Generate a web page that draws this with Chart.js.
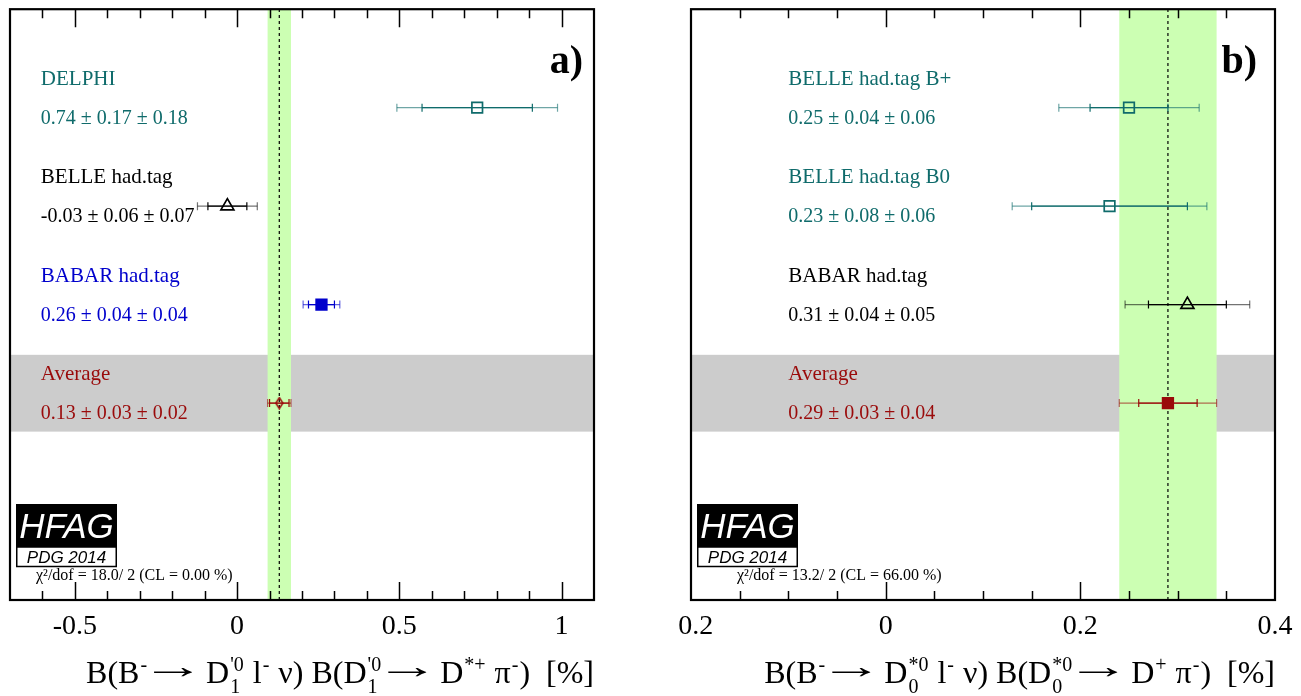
<!DOCTYPE html>
<html>
<head>
<meta charset="utf-8">
<title>HFAG B -> D** l nu averages</title>
<script src="https://cdn.jsdelivr.net/npm/chart.js@4/dist/chart.umd.min.js"></script>
<style>
  html, body { margin: 0; padding: 0; background: #fff; }
  body { width: 1301px; height: 696px; position: relative; overflow: hidden; }
  canvas { position: absolute; top: 0; }
  #panel-a { left: 0; }
  #panel-b { left: 679px; }
</style>
</head>
<body>
<canvas id="panel-a" width="679" height="696"></canvas>
<canvas id="panel-b" width="622" height="696"></canvas>
<script>
(function () {
  'use strict';

  var ARROW = '\u2192';

  // ── panel a) B- -> D1'0 l- nu, D1'0 -> D*+ pi- ──
  var labelsA = ['DELPHI', 'BELLE had.tag', 'BABAR had.tag', 'Average'];
  var valuesA = [0.74, -0.03, 0.26, 0.13];
  var statA   = [0.17, 0.06, 0.04, 0.03];
  var systA   = [0.18, 0.07, 0.04, 0.02];
  var ticksA  = [-0.5, 0, 0.5, 1];
  var chiA    = '\u03c7\u00b2/dof = 18.0/ 2 (CL = 0.00 %)';
  var titleA  = ['B(B', ['', '-'], ARROW, ' D', ['1', "'0"], ' l', ['', '-'], ' \u03bd) B(D', ['1', "'0"],
                 ARROW, ' D', ['', '*+'], ' \u03c0', ['', '-'], ')  [%]'];

  // ── panel b) B- -> D0*0 l- nu, D0*0 -> D+ pi- ──
  var labelsB = ['BELLE had.tag B+', 'BELLE had.tag B0', 'BABAR had.tag', 'Average'];
  var valuesB = [0.25, 0.23, 0.31, 0.29];
  var statB   = [0.04, 0.08, 0.04, 0.03];
  var systB   = [0.06, 0.06, 0.05, 0.04];
  var ticksB  = [-0.2, 0, 0.2, 0.4];
  var chiB    = '\u03c7\u00b2/dof = 13.2/ 2 (CL = 66.00 %)';
  var titleB  = ['B(B', ['', '-'], ARROW, ' D', ['0', '*0'], ' l', ['', '-'], ' \u03bd) B(D', ['0', '*0'],
                 ARROW, ' D', ['', '+'], ' \u03c0', ['', '-'], ')  [%]'];

  var rows = [5, 4, 3, 2];
  var greyBand = [1.71, 2.49];

  var SERIF = "'Liberation Serif', 'Times New Roman', serif";
  var SANS = "'Liberation Sans', Arial, sans-serif";

  var TEAL = '#0f6b6b', BLACK = '#000000', BLUE = '#0000cc', RED = '#9a0a0a';
  var light = {};
  light[TEAL] = 'rgba(15,107,107,0.6)';
  light[BLACK] = 'rgba(0,0,0,0.55)';
  light[BLUE] = 'rgba(0,0,204,0.6)';
  light[RED] = 'rgba(154,10,10,0.6)';

  function diamond(color) {
    var c = document.createElement('canvas');
    c.width = 9; c.height = 13;
    var g = c.getContext('2d');
    g.beginPath();
    g.moveTo(4.5, 1); g.lineTo(8, 6.5); g.lineTo(4.5, 12); g.lineTo(1, 6.5); g.closePath();
    g.strokeStyle = color; g.lineWidth = 1.5; g.stroke();
    return c;
  }

  function errBar(lo, hi, y, color, order) {
    return {
      data: [{ x: lo, y: y }, { x: hi, y: y }],
      showLine: true, borderColor: color, borderWidth: 1.2,
      pointStyle: 'line', pointRotation: 90, pointRadius: 4,
      pointBorderColor: color, pointBorderWidth: 1.2, order: order
    };
  }

  // text with stacked sub/superscripts; the arrow is stretched like ROOT's #rightarrow
  function drawRich(ctx, runs, xRight, baseline, size) {
    var main = size + 'px ' + SERIF;
    var small = Math.round(size * 0.62) + 'px ' + SERIF;
    var arrowVis = 40, arrowGap = 5;
    var widths = runs.map(function (r) {
      if (r === ARROW) return arrowVis + 2 * arrowGap;
      if (typeof r === 'string') { ctx.font = main; return ctx.measureText(r).width; }
      ctx.font = small;
      return Math.max(ctx.measureText(r[0]).width, ctx.measureText(r[1]).width) + 2;
    });
    var x = xRight - widths.reduce(function (s, w) { return s + w; }, 0);
    ctx.textAlign = 'left';
    ctx.textBaseline = 'alphabetic';
    runs.forEach(function (r, i) {
      if (r === ARROW) {
        ctx.font = main;
        var m = ctx.measureText(ARROW);
        var vis = m.actualBoundingBoxLeft + m.actualBoundingBoxRight;
        var sx = arrowVis / vis;
        ctx.save();
        ctx.translate(x + arrowGap + m.actualBoundingBoxLeft * sx, baseline - 5);
        ctx.scale(sx, 1.1);
        ctx.fillText(ARROW, 0, 0);
        ctx.restore();
      } else if (typeof r === 'string') {
        ctx.font = main; ctx.fillText(r, x, baseline);
      } else {
        ctx.font = small;
        if (r[0]) ctx.fillText(r[0], x + 1, baseline + size * 0.31);
        if (r[1]) ctx.fillText(r[1], x + 1, baseline - size * 0.37);
      }
      x += widths[i];
    });
  }

  function drawLogo(ctx, x, y) {
    ctx.fillStyle = '#000';
    ctx.fillRect(x, y, 101, 43);
    ctx.fillStyle = '#fff';
    ctx.fillRect(x, y + 43, 101, 20);
    ctx.strokeStyle = '#000';
    ctx.lineWidth = 1.5;
    ctx.strokeRect(x + 0.75, y + 43, 99.5, 19.5);
    ctx.textAlign = 'center';
    ctx.textBaseline = 'alphabetic';
    ctx.font = 'italic 35px ' + SANS;
    ctx.fillText('HFAG', x + 50.5, y + 34);
    ctx.fillStyle = '#000';
    ctx.font = 'italic 17px ' + SANS;
    ctx.fillText('PDG 2014', x + 50.5, y + 59);
  }

  function buildPanel(id, p) {
    var n = p.values.length;
    var tot = p.stat.map(function (s, i) { return Math.sqrt(s * s + p.syst[i] * p.syst[i]); });
    var avg = p.values[n - 1], avgErr = tot[n - 1];

    var datasets = [];
    p.values.forEach(function (v, i) {
      var c = p.colors[i], y = rows[i];
      datasets.push({
        data: [{ x: v, y: y }],
        pointStyle: p.markers[i] === 'diamond' ? diamond(c) : p.markers[i],
        pointRadius: 7.5,
        pointBackgroundColor: p.filled[i] ? c : 'rgba(0,0,0,0)',
        pointBorderColor: c, pointBorderWidth: 1.7, order: 0
      });
      datasets.push(errBar(v - p.stat[i], v + p.stat[i], y, c, 1));
      datasets.push(errBar(v - tot[i], v + tot[i], y, light[c], 2));
    });
    datasets.push({
      data: [{ x: avg, y: 0 }, { x: avg, y: 6 }],
      showLine: true, borderColor: '#000', borderWidth: 1.2, borderDash: [3, 3],
      pointRadius: 0, order: 3
    });

    var decor = {
      id: 'decor',
      beforeDatasetsDraw: function (chart) {
        var ctx = chart.ctx, a = chart.chartArea, xs = chart.scales.x, ys = chart.scales.y;
        ctx.save();
        ctx.fillStyle = '#cccccc';
        var gt = ys.getPixelForValue(greyBand[1]), gb = ys.getPixelForValue(greyBand[0]);
        ctx.fillRect(a.left, gt, a.right - a.left, gb - gt);
        ctx.fillStyle = '#ccffb3';
        var bl = xs.getPixelForValue(avg - avgErr), br = xs.getPixelForValue(avg + avgErr);
        ctx.fillRect(bl, a.top, br - bl, a.bottom - a.top);
        ctx.restore();
      },
      afterDatasetsDraw: function (chart) {
        var ctx = chart.ctx, a = chart.chartArea, xs = chart.scales.x, ys = chart.scales.y;
        ctx.save();
        // inward ticks, top and bottom
        ctx.strokeStyle = '#000';
        ctx.lineWidth = 1.5;
        var nMinor = Math.round((xs.max - xs.min) / p.minorStep);
        for (var k = 1; k < nMinor; k++) {
          var v = xs.min + k * p.minorStep;
          var q = v / p.majorStep;
          var len = Math.abs(q - Math.round(q)) < 1e-6 ? 18 : 9;
          var px = Math.round(xs.getPixelForValue(v)) + 0.5;
          ctx.beginPath();
          ctx.moveTo(px, a.bottom); ctx.lineTo(px, a.bottom - len);
          ctx.moveTo(px, a.top); ctx.lineTo(px, a.top + len);
          ctx.stroke();
        }
        ctx.lineWidth = 2.2;
        ctx.strokeRect(a.left, a.top, a.right - a.left, a.bottom - a.top);

        // labels and values
        ctx.textAlign = 'left';
        ctx.textBaseline = 'alphabetic';
        var tx = xs.getPixelForValue(p.textX);
        p.values.forEach(function (v, i) {
          var y = ys.getPixelForValue(rows[i]);
          ctx.fillStyle = p.textColors[i];
          ctx.font = '21px ' + SERIF;
          ctx.fillText(p.labels[i], tx, y - 23);
          ctx.font = '20px ' + SERIF;
          ctx.fillText(v.toFixed(2) + ' \u00b1 ' + p.stat[i].toFixed(2) + ' \u00b1 ' + p.syst[i].toFixed(2), tx, y + 16);
        });

        ctx.fillStyle = '#000';
        ctx.textAlign = 'right';
        ctx.font = 'bold 40px ' + SERIF;
        ctx.fillText(p.tag, a.right - p.tagInset, 73);

        drawLogo(ctx, a.left + 6, 504);
        ctx.fillStyle = '#000';
        ctx.textAlign = 'left';
        ctx.font = '16px ' + SERIF;
        ctx.fillText(p.chi, a.left + p.chiInset, 580);

        drawRich(ctx, p.title, a.right, 683, 32);
        ctx.restore();
      }
    };

    new Chart(document.getElementById(id), {
      type: 'scatter',
      data: { datasets: datasets },
      options: {
        responsive: false,
        animation: false,
        events: [],
        layout: { padding: p.padding },
        plugins: { legend: { display: false }, tooltip: { enabled: false } },
        scales: {
          x: {
            type: 'linear', position: 'bottom', min: p.min, max: p.max,
            grid: { display: false }, border: { display: false },
            afterBuildTicks: function (axis) { axis.ticks = p.ticks.map(function (t) { return { value: t }; }); },
            afterFit: function (axis) { axis.paddingLeft = 0; axis.paddingRight = 0; axis.height = 96; },
            ticks: {
              autoSkip: false, maxRotation: 0, padding: 2, color: '#000',
              font: { family: SERIF, size: 28 },
              callback: function (value) { return String(value); }
            }
          },
          y: { type: 'linear', min: 0, max: 6, display: false }
        }
      },
      plugins: [decor]
    });
  }

  buildPanel('panel-a', {
    labels: labelsA, values: valuesA, stat: statA, syst: systA, ticks: ticksA, chi: chiA, title: titleA,
    min: -0.7, max: 1.1, majorStep: 0.5, minorStep: 0.1, textX: -0.605,
    colors: [TEAL, BLACK, BLUE, RED], textColors: [TEAL, BLACK, BLUE, RED],
    markers: ['rect', 'triangle', 'rect', 'diamond'], filled: [false, false, true, false],
    tag: 'a)', tagInset: 11, chiInset: 26,
    padding: { left: 10, right: 85, top: 7, bottom: 0 }
  });

  buildPanel('panel-b', {
    labels: labelsB, values: valuesB, stat: statB, syst: systB, ticks: ticksB, chi: chiB, title: titleB,
    min: -0.2, max: 0.4, majorStep: 0.2, minorStep: 0.05, textX: -0.1,
    colors: [TEAL, TEAL, BLACK, RED], textColors: [TEAL, TEAL, BLACK, RED],
    markers: ['rect', 'rect', 'triangle', 'rect'], filled: [false, false, false, true],
    tag: 'b)', tagInset: 18, chiInset: 46,
    padding: { left: 12, right: 26, top: 7, bottom: 0 }
  });
})();
</script>
</body>
</html>
